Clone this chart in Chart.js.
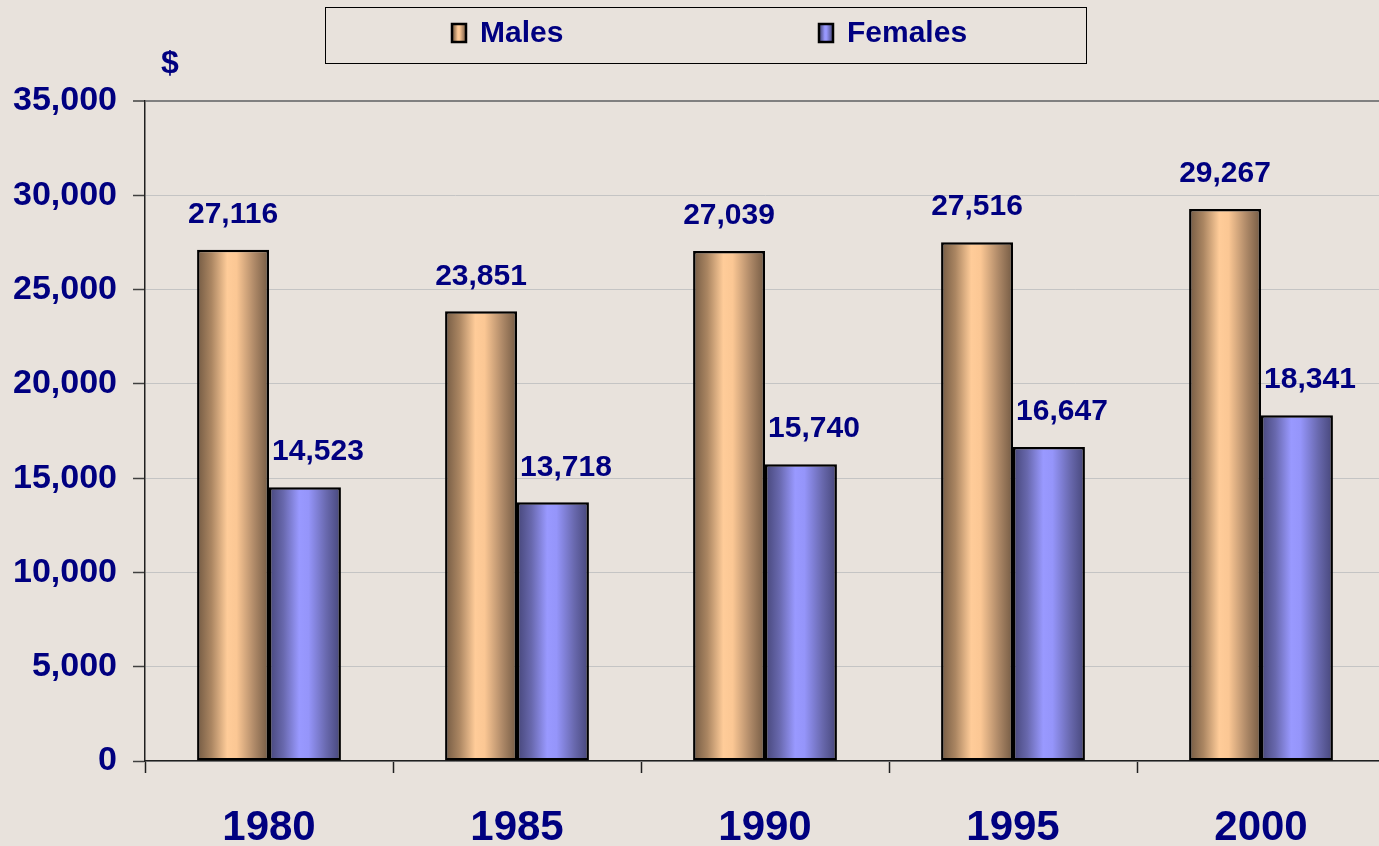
<!DOCTYPE html>
<html>
<head>
<meta charset="utf-8">
<script src="https://cdn.jsdelivr.net/npm/chart.js@4"></script>
<style>
  html, body { margin: 0; padding: 0; background: #e8e2dc; overflow: hidden; }
  #wrap { width: 1385px; height: 846px; }
</style>
</head>
<body>
<div id="wrap"><canvas id="incomeChart" width="1385" height="846"></canvas></div>
<script>
const years = ['1980', '1985', '1990', '1995', '2000'];
const males = [27116, 23851, 27039, 27516, 29267];
const females = [14523, 13718, 15740, 16647, 18341];
const yTicks = [0, 5000, 10000, 15000, 20000, 25000, 30000, 35000];

const NAVY = '#000080';
const FONT = 'Arial, "Liberation Sans", sans-serif';

const shades = {
    Males: [[0, '#735a43'], [0.2, '#ab8662'], [0.42, '#ffcc99'], [0.55, '#fbc794'], [0.8, '#ad8867'], [1, '#735a43']],
    Females: [[0, '#464679'], [0.2, '#6868ad'], [0.42, '#9999ff'], [0.55, '#9595fa'], [0.8, '#6868ad'], [1, '#464679']]
};
// horizontal nudge of the value labels, per series
const labelShift = [0, 13];

function makeGradient(ctx, left, right, stops) {
    const g = ctx.createLinearGradient(left, 0, right, 0);
    stops.forEach(s => g.addColorStop(s[0], s[1]));
    return g;
}

const fmt = v => v.toLocaleString('en-US');

// cylinder-like shading for each bar
const cylinderPlugin = {
    id: 'cylinder',
    beforeDatasetsDraw(chart) {
        const ctx = chart.ctx;
        chart.data.datasets.forEach((ds, di) => {
            chart.getDatasetMeta(di).data.forEach(bar => {
                const half = bar.width / 2;
                bar.options.backgroundColor = makeGradient(ctx, bar.x - half, bar.x + half, shades[ds.label]);
            });
        });
    }
};

// values above bars, legend box and the "$" unit
const decorPlugin = {
    id: 'decor',
    afterDatasetsDraw(chart) {
        const ctx = chart.ctx;
        ctx.save();
        ctx.fillStyle = NAVY;
        ctx.font = 'bold 30px ' + FONT;
        ctx.textAlign = 'center';
        ctx.textBaseline = 'middle';
        chart.data.datasets.forEach((ds, di) => {
            chart.getDatasetMeta(di).data.forEach((bar, i) => {
                ctx.fillText(fmt(ds.data[i]), bar.x + labelShift[di], bar.y - 35);
            });
        });
        ctx.restore();
    },
    afterDraw(chart) {
        const ctx = chart.ctx;
        ctx.save();
        // legend box
        ctx.strokeStyle = '#000000';
        ctx.lineWidth = 1;
        ctx.strokeRect(325.5, 7.5, 761, 56);
        const items = [
            { label: 'Males', x: 452 },
            { label: 'Females', x: 819 }
        ];
        ctx.font = 'bold 30px ' + FONT;
        ctx.textBaseline = 'middle';
        ctx.textAlign = 'left';
        items.forEach(it => {
            ctx.fillStyle = makeGradient(ctx, it.x, it.x + 14, shades[it.label]);
            ctx.fillRect(it.x, 24, 14, 18);
            ctx.lineWidth = 2.5;
            ctx.strokeRect(it.x, 24, 14, 18);
            ctx.fillStyle = NAVY;
            ctx.fillText(it.label, it.x + 28, 34);
        });
        // unit label
        ctx.font = 'bold 32px ' + FONT;
        ctx.textAlign = 'center';
        ctx.fillText('$', 170, 64);
        ctx.restore();
    }
};

new Chart(document.getElementById('incomeChart'), {
    type: 'bar',
    data: {
        labels: years,
        datasets: [
            { label: 'Males', data: males, backgroundColor: () => '#ffcc99' },
            { label: 'Females', data: females, backgroundColor: () => '#9999ff' }
        ]
    },
    options: {
        responsive: false,
        animation: false,
        layout: { padding: { top: 101, right: 0, left: 0, bottom: 0 } },
        datasets: {
            bar: {
                categoryPercentage: 0.58,
                barPercentage: 1.0,
                borderColor: '#000000',
                borderWidth: 2.5,
                borderSkipped: false
            }
        },
        plugins: {
            legend: { display: false },
            tooltip: { enabled: false }
        },
        scales: {
            x: {
                grid: {
                    offset: true,
                    drawOnChartArea: false,
                    drawTicks: true,
                    tickLength: 12,
                    tickColor: '#202020',
                    tickWidth: 1.5
                },
                border: { display: true, color: '#202020', width: 1.5 },
                ticks: {
                    color: NAVY,
                    font: { family: FONT, size: 42, weight: 'bold' },
                    padding: 30,
                    maxRotation: 0
                },
                afterFit(scale) { scale.height = 85; }
            },
            y: {
                min: 0,
                max: 35000,
                afterBuildTicks(scale) { scale.ticks = yTicks.map(v => ({ value: v })); },
                grid: {
                    color: ctx => ctx.tick && ctx.tick.value === 35000 ? '#808080' : '#c4c4c4',
                    lineWidth: ctx => ctx.tick && ctx.tick.value === 35000 ? 2 : 1,
                    tickLength: 12,
                    tickColor: '#404040',
                    tickWidth: 1.5
                },
                border: { display: true, color: '#202020', width: 1.5 },
                ticks: {
                    color: NAVY,
                    font: { family: FONT, size: 34, weight: 'bold' },
                    padding: 16,
                    callback: v => fmt(v)
                },
                afterFit(scale) { scale.width = 145; }
            }
        }
    },
    plugins: [cylinderPlugin, decorPlugin]
});
</script>
</body>
</html>
